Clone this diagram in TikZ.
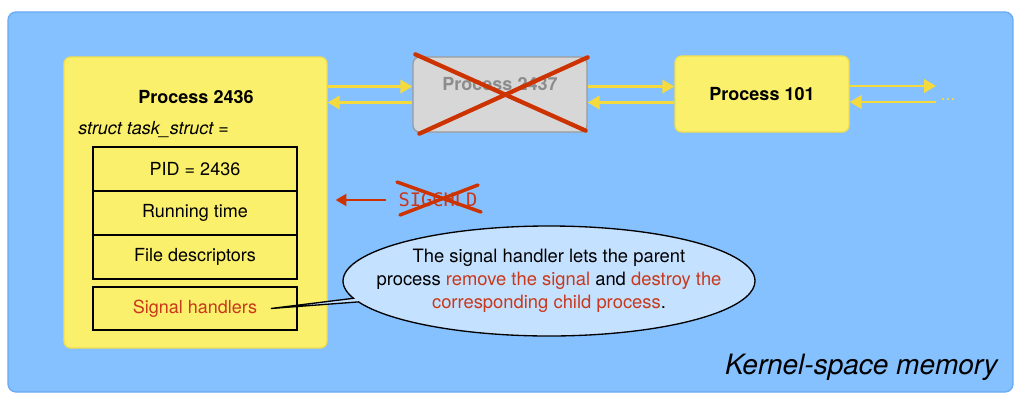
\documentclass[tikz,border=0pt]{standalone}
\usepackage{fontspec}
\setmainfont{TeX Gyre Heros}
\setmonofont{DejaVu Sans Mono}
\usetikzlibrary{arrows.meta,calc,shapes.callouts}

\definecolor{kblue}{HTML}{85C1FF}
\definecolor{kblueline}{HTML}{6AA9F4}
\definecolor{pyellow}{HTML}{FBF06B}
\definecolor{pyellowline}{HTML}{F2DE4F}
\definecolor{ayellow}{HTML}{F5DA3E}
\definecolor{xred}{HTML}{CC3300}
\definecolor{tred}{HTML}{C8381C}
\definecolor{ghost}{HTML}{D7D7D7}
\definecolor{ghostline}{HTML}{9A9A9A}
\definecolor{ghosttext}{HTML}{8C8C8C}
\definecolor{bubble}{HTML}{C4E1FF}

\newcommand\lblsize{\fontsize{13.5}{17}\selectfont}

\tikzset{
  proc/.style={draw=pyellowline, fill=pyellow, line width=1pt, rounded corners=5pt,
    inner sep=0pt, minimum width=130.5pt, minimum height=57pt, font=\lblsize\bfseries},
  field/.style={draw=black, line width=0.9pt, inner sep=0pt,
    minimum width=153pt, minimum height=33pt},
  link/.style={draw=ayellow, line width=2pt, -{Triangle[length=9pt,width=10pt]}},
  cross/.style={draw=xred, line width=3.2pt, line cap=round},
}

\begin{document}
\begin{tikzpicture}[x=0.75pt,y=-0.75pt,font=\lblsize]
\useasboundingbox (0,0) rectangle (1025,403);

% kernel memory
\node[draw=kblueline, fill=kblue, line width=1pt, rounded corners=6pt, inner sep=0pt,
  minimum width=753.75pt, minimum height=285pt] (kernel) at (510.5,202) {};
\node[anchor=east, inner sep=0pt, font=\fontsize{21}{24}\selectfont\itshape]
  (kname) at (998,367) {Kernel-space memory};

% parent process
\node[proc, minimum width=197.25pt, minimum height=218.25pt] (p2436) at (195.5,202.5) {};
\node[font=\lblsize\bfseries] (t2436) at (196,97) {Process 2436};
\node[anchor=west, inner sep=0pt, font=\lblsize\itshape] (ts) at (78,130) {struct task\_struct =};

\node[field] (pid) at (195,169) {PID = 2436};
\node[field] (rt) at (195,213) {Running time};
\node[field] (fd) at (195,257) {File descriptors};
\node[field, minimum height=32.25pt, text=tred] (sh) at (195,308.5) {Signal handlers};

% dead child
\node[draw=ghostline, fill=ghost, line width=1pt, rounded corners=5pt, inner sep=0pt,
  minimum width=130.5pt, minimum height=56.25pt] (p2437) at (500,94.5) {};
\node[text=ghosttext, font=\lblsize\bfseries] (t2437) at (500,84) {Process 2437};
\draw[cross] ([shift={(3,-2)}]p2437.north west) -- ([shift={(-2,-2)}]p2437.south east);
\draw[cross] ([shift={(0,1)}]p2437.north east) -- ([shift={(7,1)}]p2437.south west);

\node[proc] (p101) at (762,94) {Process 101};
\coordinate (more) at (936,94);
\node[text=ayellow, inner sep=0pt] (dots) at (948,100) {...};

% list links
\draw[link] ($(p2436.east |- p2437.west)+(0,-8)$) -- ($(p2437.west)+(0,-8)$);
\draw[link] ($(p2437.west)+(0,8)$) -- ($(p2436.east |- p2437.west)+(0,8)$);
\draw[link] ($(p2437.east)+(0,-8)$) -- ($(p101.west |- p2437.east)+(0,-8)$);
\draw[link] ($(p101.west |- p2437.east)+(0,8)$) -- ($(p2437.east)+(0,8)$);
\draw[link] ($(p101.east)+(0,-8)$) -- ($(more)+(0,-8)$);
\draw[link] ($(more)+(0,8)$) -- ($(p101.east)+(0,8)$);

% signal
\node[text=tred, font=\fontsize{14}{17}\ttfamily] (sig) at (438,200) {SIGCHLD};
\draw[cross, line width=2.6pt] ([shift={(-41,-18)}]sig.center) -- ([shift={(43,12)}]sig.center);
\draw[cross, line width=2.6pt] ([shift={(40,-15)}]sig.center) -- ([shift={(-38,15)}]sig.center);
\draw[draw=xred, line width=1.5pt, -{Triangle[length=8pt,width=9pt]}]
  ([xshift=-6pt]sig.west) -- ([xshift=6pt]p2436.east |- sig.west);

% callout
\node[ellipse callout, draw=black, fill=bubble, line width=1pt, inner xsep=-23pt, inner ysep=0pt,
  minimum width=309pt, minimum height=82.5pt, align=center, callout pointer arc=4,
  callout absolute pointer={([xshift=-20pt]sh.east)},
  font=\fontsize{13.8}{17.3}\selectfont] (note) at (549,281)
  {The signal handler lets the parent\\
   process \textcolor{tred}{remove the signal} and \textcolor{tred}{destroy the}\\
   \textcolor{tred}{corresponding child process}.};

\end{tikzpicture}
\end{document}
